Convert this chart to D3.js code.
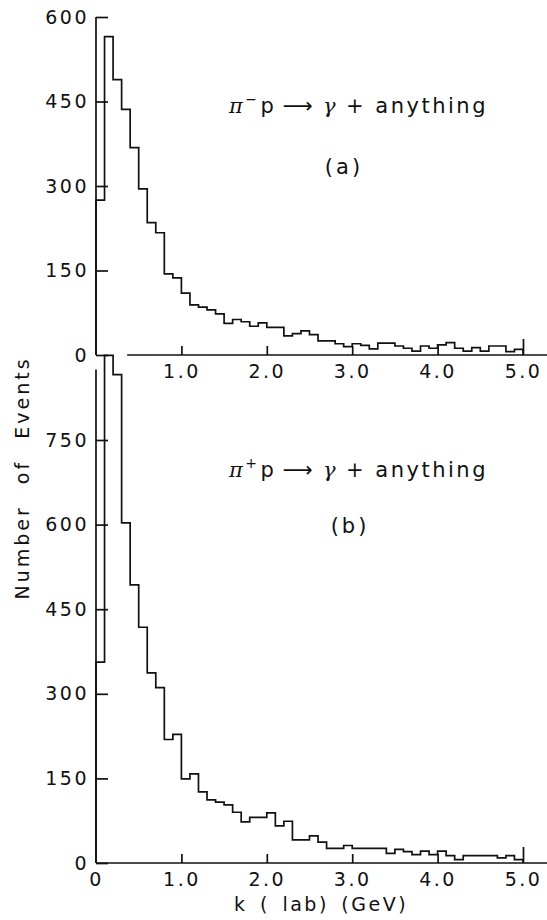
<!DOCTYPE html>
<html>
<head>
<meta charset="utf-8">
<script src="https://cdn.jsdelivr.net/npm/d3@7"></script>
<style>
  body { margin: 0; background: #fff; }
  svg text { font-family: "DejaVu Sans", sans-serif; fill: #111; }
</style>
</head>
<body>
<svg id="chart"></svg>
<script>
// ************************************************************************************************** //
// Data

var binStart = d3.range(0, 50).map((i) => { return i/10 });
var binWidth = 0.1;

// (a) pi- p -> gamma + anything
var piMinus = [275,565,489,436,368,295,235,217,144,137,
               110, 89, 85, 80, 73, 56, 63, 59, 51, 57,
                49, 49, 34, 38, 43, 36, 25, 25, 20, 15,
                20, 17, 11, 21, 21, 16, 12,  7, 16, 12,
                18, 22, 12,  7, 13,  7, 16, 16,  6, 10];

// (b) pi+ p -> gamma + anything
var piPlus  = [356,900,866,603,493,418,337,311,219,228,
               149,158,126,112,108,103, 90, 73, 81, 81,
                89, 66, 74, 41, 41, 48, 37, 26, 26, 31,
                26, 26, 26, 26, 17, 24, 20, 15, 21, 15,
                21, 13,  6, 13, 13, 13, 13,  9, 13,  6];

var topYTicks = [0, 150, 300, 450, 600];
var botYTicks = [0, 150, 300, 450, 600, 750];
var topXTicks = [1, 2, 3, 4, 5];
var botXTicks = [0, 1, 2, 3, 4, 5];

// ************************************************************************************************** //
// Setup

var width = 547, height = 920;
var stroke = '#111', lw = 1.7;

var svg = d3.select('#chart').attr('width', width).attr('height', height);

var x = d3.scaleLinear().domain([0, 5]).range([96, 523]);
var yTop = d3.scaleLinear().domain([0, 600]).range([355, 17]);
var yBot = d3.scaleLinear().domain([0, 900]).range([863, 355.4]);

var line_gen = d3.line().x((d) => { return x(d[0]) }).y((d) => { return d[1] });

function stepPoints(values, y){
  var pts = [[0, y(0)]];
  values.forEach((v, i) => {
    pts.push([binStart[i], y(v)]);
    pts.push([binStart[i] + binWidth, y(v)]);
  });
  pts.push([5, y(0)]);
  return pts;
}

function xLabel(d){ return d === 0 ? '0' : d.toFixed(1) }

// ************************************************************************************************** //
// Axes

function drawYAxis(y, ticks, top){
  var g = svg.append('g').attr('transform', 'translate(' + x(0) + ',0)')
    .call(d3.axisLeft(y).tickValues(ticks).tickSize(-12).tickSizeOuter(0).tickPadding(7));
  g.select('.domain').remove();
  g.selectAll('line').attr('stroke', stroke).attr('stroke-width', lw);
  g.selectAll('text').style('font-size', '19px').style('letter-spacing', '2.5px');
  g.append('line').attr('x1', 0).attr('x2', 0).attr('y1', y(top)).attr('y2', y(0))
    .attr('stroke', stroke).attr('stroke-width', lw);
}

function drawXAxis(y, ticks, from){
  var g = svg.append('g').attr('transform', 'translate(0,' + y(0) + ')')
    .call(d3.axisBottom(x).tickValues(ticks).tickFormat(xLabel).tickSize(-9).tickSizeOuter(0).tickPadding(10));
  g.select('.domain').remove();
  g.selectAll('line').attr('stroke', stroke).attr('stroke-width', lw);
  g.selectAll('.tick').filter((d) => { return d === 5 }).select('line').attr('y2', -16);
  g.selectAll('.tick').filter((d) => { return d === 0 }).select('line').remove();
  g.selectAll('text').style('font-size', '19px').style('letter-spacing', '2.5px');
  g.append('line').attr('x1', x(from)).attr('x2', width).attr('y1', 0).attr('y2', 0)
    .attr('stroke', stroke).attr('stroke-width', lw);
}

drawYAxis(yTop, topYTicks, 600);
drawXAxis(yTop, topXTicks, 0.365);
drawYAxis(yBot, botYTicks, 875);
drawXAxis(yBot, botXTicks, 0);

// ************************************************************************************************** //
// Histograms

svg.append('path').attr('d', line_gen(stepPoints(piMinus, yTop)))
  .attr('fill', 'none').attr('stroke', stroke).attr('stroke-width', lw);
svg.append('path').attr('d', line_gen(stepPoints(piPlus, yBot)))
  .attr('fill', 'none').attr('stroke', stroke).attr('stroke-width', lw);

// ************************************************************************************************** //
// Labels

function reaction(yPos, sign){
  var t = svg.append('text').attr('x', 229).attr('y', yPos)
    .style('font-size', '21px').style('letter-spacing', '2.5px');
  t.append('tspan').text('π').style('font-family', '"DejaVu Serif", serif').style('font-style', 'italic');
  t.append('tspan').text(sign).attr('dy', -9).style('font-size', '14px');
  t.append('tspan').text('p').attr('dy', 9).attr('dx', 1);
  t.append('tspan').text('⟶').attr('dx', 6);
  t.append('tspan').text('γ').attr('dx', 8).style('font-family', '"DejaVu Serif", serif').style('font-style', 'italic');
  t.append('tspan').text('+ anything').attr('dx', 8);
}

reaction(113, '−');
reaction(477, '+');

svg.append('text').attr('x', 344).attr('y', 174).attr('text-anchor', 'middle')
  .style('font-size', '21px').style('letter-spacing', '3px').text('(a)');
svg.append('text').attr('x', 350).attr('y', 533).attr('text-anchor', 'middle')
  .style('font-size', '21px').style('letter-spacing', '3px').text('(b)');

svg.append('text').attr('transform', 'translate(29,478) rotate(-90)').attr('text-anchor', 'middle')
  .style('font-size', '19px').style('letter-spacing', '3px').style('word-spacing', '12px')
  .text('Number of Events');

svg.append('text').attr('x', 321).attr('y', 911).attr('text-anchor', 'middle')
  .style('font-size', '19px').style('letter-spacing', '2.5px').style('word-spacing', '4px')
  .text('k ( lab)  (GeV)');
</script>
</body>
</html>
